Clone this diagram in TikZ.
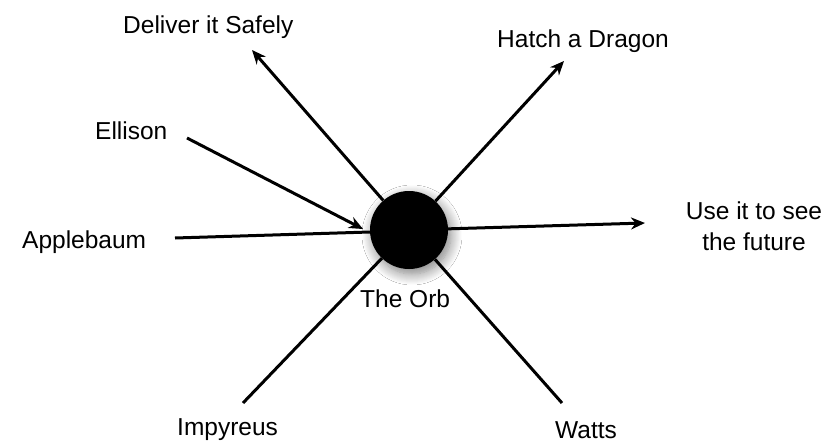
\documentclass[tikz,border=0pt]{standalone}
\usepackage{fontspec}
\setmainfont{Liberation Sans}
\usetikzlibrary{arrows.meta,shadows.blur}
\begin{document}
\begin{tikzpicture}[x=1pt,y=-1pt,
  lbl/.style={font=\fontsize{24.5}{31}\selectfont, inner sep=0pt, align=center},
  conn/.style={line width=3pt},
  arr/.style={conn,-{Stealth[length=14pt,width=12pt]}}]
\useasboundingbox[fill=white] (0,0) rectangle (829,447);
\node[circle, fill=black, minimum size=78pt, inner sep=0pt,
  blur shadow={shadow xshift=3pt, shadow yshift=-5pt, shadow blur radius=11pt, shadow blur steps=12, shadow opacity=50}] (orb) at (409,230) {};
\node[lbl, anchor=base west] (orbl) at (360,307) {The Orb};
\node[lbl, anchor=base west] (deliver) at (123,33) {Deliver it Safely};
\node[lbl, anchor=base west] (hatch) at (497,47) {Hatch a Dragon};
\node[lbl, anchor=base west] (ellison) at (95,139) {Ellison};
\node[lbl, anchor=base west] (apple) at (22,248) {Applebaum};
\node[lbl, anchor=base] (use) at (754,250) {Use it to see\\the future};
\node[lbl, anchor=base west] (imp) at (177,435) {Impyreus};
\node[lbl, anchor=base west] (watts) at (555,438) {Watts};
\coordinate (cdel) at (252,50);
\coordinate (chat) at (564,61);
\coordinate (cell0) at (187,138);
\coordinate (cell1) at (363,229);
\coordinate (capp) at (175,238);
\coordinate (cuse) at (645,223);
\coordinate (cimp) at (243,403);
\coordinate (cwat) at (562,403);
\draw[arr] (orb) -- (cdel);
\draw[arr] (orb) -- (chat);
\draw[arr] (cell0) -- (cell1);
\draw[conn] (capp) -- (orb.west |- 0,232);
\draw[arr] (orb) -- (cuse);
\draw[conn] (orb) -- (cimp);
\draw[conn] (orb) -- (cwat);
\end{tikzpicture}
\end{document}
